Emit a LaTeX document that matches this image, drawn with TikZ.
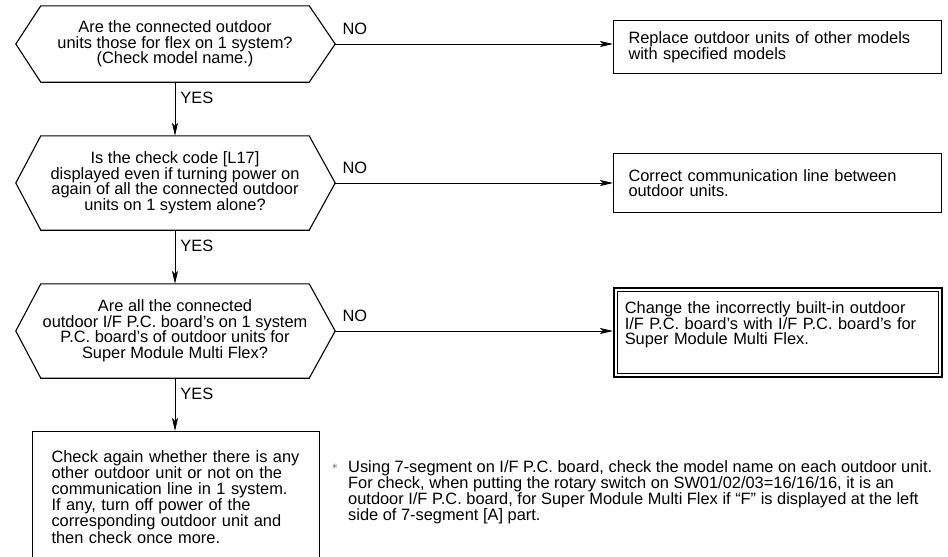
\documentclass[tikz,border=0pt]{standalone}
\usepackage{fontspec}
\setmainfont{Liberation Sans}
\usetikzlibrary{arrows.meta}
\tikzstyle{arr}=[-{Stealth[length=13pt,width=6pt,inset=3pt]}, line width=0.8pt]
\tikzstyle{quest}=[minimum width=268pt, inner sep=0pt, align=center, font=\fontsize{16.4}{15.5}\selectfont]
\tikzstyle{act}=[draw, line width=1pt, anchor=north west, inner xsep=15pt, text width=298pt, align=left, font=\fontsize{16.4}{14.6}\selectfont]
\tikzstyle{yes}=[pos=0.3, anchor=west, inner sep=0pt, xshift=5pt, font=\fontsize{16.4}{15.5}\selectfont]
\tikzstyle{no}=[pos=0, anchor=south west, inner sep=0pt, xshift=7pt, yshift=9pt, font=\fontsize{16.4}{15.5}\selectfont]

\begin{document}
\begin{tikzpicture}[x=1pt, y=-1pt]
	\useasboundingbox (0,0) rectangle (948,557);

	% Questions
	\node[quest, minimum height=76pt] (q1) at (175,44) {Are the connected outdoor\\units those for flex on 1 system?\\(Check model name.)};
	\node[quest, minimum height=94pt] (q2) at (175,183) {Is the check code [L17]\\displayed even if turning power on\\again of all the connected outdoor\\units on 1 system alone?};
	\node[quest, minimum height=94pt] (q3) at (175,331) {Are all the connected\\outdoor I/F P.C. board's on 1 system\\P.C. board's of outdoor units for\\Super Module Multi Flex?};

	\foreach \q in {q1, q2, q3}{
		\draw[line width=1.1pt] (\q.north west) -- (\q.north east) -- ([xshift=26pt]\q.east) -- (\q.south east)
			-- (\q.south west) -- ([xshift=-25pt]\q.west) -- cycle;
		\coordinate (\q r) at ([xshift=26pt]\q.east);
	}

	% Remedies
	\node[act, minimum height=53pt] (r1) at (613,20) {Replace outdoor units of other models\\with specified models\\[-8pt]};
	\node[act, minimum height=59pt] (r2) at (613,153) {Correct communication line between\\outdoor units.\\[-8pt]};
	\node[act, minimum height=89pt, line width=1.6pt, inner xsep=11pt, text width=306pt] (r3) at (613,287) {Change the incorrectly built-in outdoor\\I/F P.C. board's with I/F P.C. board's for\\Super Module Multi Flex.\\[4pt]~};
	\draw[line width=0.6pt] ([shift={(4pt,4pt)}]r3.south west) rectangle ([shift={(-4pt,-4pt)}]r3.north east);

	\node[act, minimum height=131pt, inner xsep=19pt, text width=249pt, font=\fontsize{16.4}{15.2}\selectfont] (b1) at (32,431) {Check again whether there is any\\other outdoor unit or not on the\\communication line in 1 system.\\If any, turn off power of the\\corresponding outdoor unit and\\then check once more.};

	% Connectors
	\draw[arr] (q1.south) -- node[yes]{YES} (q2.north);
	\draw[arr] (q2.south) -- node[yes]{YES} (q3.north);
	\draw[arr] (q3.south) -- node[yes]{YES} (b1.north -| q3.south);

	\draw[arr] (q1r) -- node[no]{NO} (q1r -| r1.west);
	\draw[arr] (q2r) -- node[no]{NO} (q2r -| r2.west);
	\draw[arr] (q3r) -- node[no]{NO} (q3r -| r3.west);

	% Note
	\node[anchor=north west, inner sep=0pt, align=left, font=\fontsize{16.4}{13.6}\selectfont] (fn) at (348,460) {Using 7-segment on I/F P.C. board, check the model name on each outdoor unit.\\For check, when putting the rotary switch on SW01/02/03=16/16/16, it is an\\outdoor I/F P.C. board, for Super Module Multi Flex if “F” is displayed at the left\\side of 7-segment [A] part.};
	\node[anchor=north east, inner sep=0pt, text=black!75, font=\large] (ast) at ([xshift=-10pt, yshift=-4pt]fn.north west) {$\ast$};
\end{tikzpicture}
\end{document}
